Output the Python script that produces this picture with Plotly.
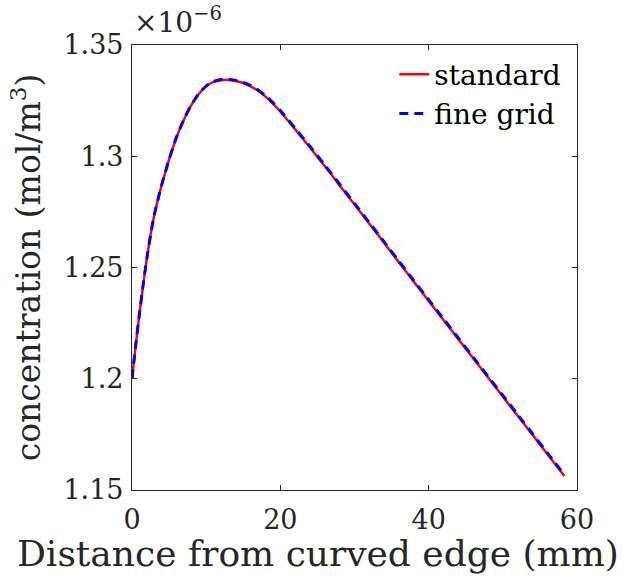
import plotly.graph_objects as go

# Distance from curved edge (mm)
distance_mm = [0, 0.5, 1.0, 1.5, 2.0, 2.5, 3.0, 4.0, 5.0, 6.0, 7.0, 8.0, 9.0, 10.0,
               11.0, 12.0, 13.0, 14.0, 15.0, 16.0, 17.0, 18.0, 19.0, 20.0, 22.0,
               24.0, 26.0, 28.0, 30.0, 32.0, 34.0, 36.0, 38.0, 40.0, 42.0, 44.0,
               46.0, 48.0, 50.0, 52.0, 54.0, 56.0, 58.3]

# concentration, in units of 1e-6 mol/m^3
standard = [1.2000, 1.2150, 1.2290, 1.2420, 1.2540, 1.2645, 1.2735, 1.2870, 1.2985,
            1.3085, 1.3165, 1.3230, 1.3280, 1.3314, 1.3334, 1.3342, 1.3343, 1.3338,
            1.3329, 1.3314, 1.3294, 1.3268, 1.3237, 1.3201, 1.3121, 1.3039, 1.2955,
            1.2869, 1.2783, 1.2697, 1.2610, 1.2523, 1.2436, 1.2350, 1.2264, 1.2178,
            1.2092, 1.2006, 1.1920, 1.1834, 1.1748, 1.1662, 1.1563]

fine_grid = [1.2000, 1.2151, 1.2291, 1.2421, 1.2541, 1.2646, 1.2736, 1.2871, 1.2986,
             1.3086, 1.3166, 1.3231, 1.3281, 1.3316, 1.3336, 1.3345, 1.3346, 1.3341,
             1.3332, 1.3318, 1.3298, 1.3272, 1.3241, 1.3206, 1.3126, 1.3044, 1.2960,
             1.2874, 1.2788, 1.2702, 1.2615, 1.2528, 1.2441, 1.2355, 1.2269, 1.2183,
             1.2097, 1.2011, 1.1925, 1.1839, 1.1753, 1.1667, 1.1568]

x_ticks = [0, 20, 40, 60]
y_ticks = [1.15, 1.2, 1.25, 1.3, 1.35]
y_tick_labels = ["1.15", "1.2", "1.25", "1.3", "1.35"]

FONT = "DejaVu Serif"
AXIS_COLOR = "#262626"

fig = go.Figure()
fig.add_trace(go.Scatter(x=distance_mm, y=standard, mode="lines", name="standard",
                         line=dict(color="#ff0000", width=2.5, shape="spline", smoothing=0.6)))
fig.add_trace(go.Scatter(x=distance_mm, y=fine_grid, mode="lines", name="fine grid",
                         line=dict(color="#0000ff", width=3, dash="9px,6px",
                                   shape="spline", smoothing=0.6)))

axis_common = dict(showline=True, linecolor=AXIS_COLOR, linewidth=1.2, mirror="ticks",
                   ticks="inside", ticklen=5, tickcolor=AXIS_COLOR, tickwidth=1.2,
                   showgrid=False, zeroline=False, automargin=False,
                   tickfont=dict(family=FONT, size=27, color=AXIS_COLOR))

fig.update_layout(
    width=631, height=588,
    margin=dict(l=132, r=54, t=45, b=98),
    paper_bgcolor="white", plot_bgcolor="white",
    xaxis=dict(range=[0, 60], tickvals=x_ticks, ticklabelstandoff=5, **axis_common),
    yaxis=dict(range=[1.15, 1.35], tickvals=y_ticks, ticktext=y_tick_labels,
               ticklabelstandoff=2,
               title=dict(text="concentration (mol/m<sup>3</sup>)",
                          font=dict(family=FONT, size=33, color=AXIS_COLOR), standoff=12),
               **axis_common),
    legend=dict(x=0.976, y=0.99, xanchor="right", yanchor="top",
                bgcolor="rgba(255,255,255,0)", borderwidth=0,
                font=dict(family=FONT, size=28, color="black"),
                itemwidth=30, tracegroupgap=0),
    showlegend=True,
)

# x-axis title (shifted left to fit the figure, as in the reference)
fig.add_annotation(xref="paper", yref="paper", x=0.418, y=0, xanchor="center",
                   yanchor="middle", yshift=-63, showarrow=False,
                   text="Distance from curved edge (mm)",
                   font=dict(family=FONT, size=36, color=AXIS_COLOR))

fig.add_annotation(xref="paper", yref="paper", x=0, y=1, xanchor="left", yanchor="bottom",
                   text="×10<sup>−6</sup>", showarrow=False, yshift=4,
                   font=dict(family=FONT, size=28, color=AXIS_COLOR))

fig.write_html("out.html", config={"displayModeBar": False},
               post_script="document.body.style.margin='0';")
